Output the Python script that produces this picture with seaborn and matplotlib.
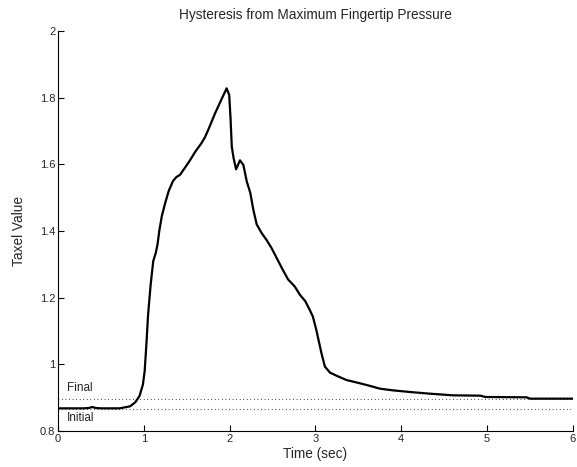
import seaborn as sns
import matplotlib.pyplot as plt
import pandas as pd

# values
time_sec = [0.0, 0.30, 0.36, 0.40, 0.44, 0.50, 0.72, 0.78, 0.84, 0.90, 0.95, 0.99,
            1.01, 1.03, 1.05, 1.08, 1.11, 1.14, 1.16, 1.18, 1.21, 1.25, 1.29, 1.34,
            1.38, 1.42, 1.48, 1.54, 1.60, 1.67, 1.71, 1.75, 1.83, 1.91, 1.965, 1.995,
            2.01, 2.025, 2.045, 2.075, 2.12, 2.16, 2.20, 2.24, 2.275, 2.315, 2.37, 2.43,
            2.49, 2.55, 2.61, 2.68, 2.76, 2.82, 2.88, 2.93, 2.97, 3.01, 3.07, 3.11,
            3.17, 3.27, 3.36, 3.52, 3.64, 3.75, 3.90, 4.10, 4.33, 4.60, 4.92, 4.98,
            5.46, 5.50, 6.0]
taxel = [0.868, 0.868, 0.869, 0.872, 0.869, 0.868, 0.868, 0.871, 0.874, 0.886, 0.905, 0.94,
         0.98, 1.06, 1.15, 1.24, 1.31, 1.335, 1.36, 1.40, 1.445, 1.485, 1.52, 1.55,
         1.562, 1.568, 1.59, 1.613, 1.638, 1.663, 1.68, 1.703, 1.753, 1.798, 1.828, 1.808,
         1.74, 1.653, 1.62, 1.585, 1.612, 1.598, 1.548, 1.515, 1.465, 1.42, 1.395, 1.373,
         1.348, 1.318, 1.288, 1.255, 1.233, 1.208, 1.19, 1.165, 1.143, 1.103, 1.033, 0.993,
         0.975, 0.963, 0.953, 0.943, 0.935, 0.927, 0.922, 0.917, 0.912, 0.907, 0.906, 0.902,
         0.901, 0.897, 0.897]
initial_level = 0.867
final_level = 0.896

sns.set_style("ticks")
plt.rcParams['font.family'] = ['Liberation Sans', 'DejaVu Sans']
plt.rcParams['xtick.direction'] = 'in'
plt.rcParams['ytick.direction'] = 'in'

df = pd.DataFrame({'Time (sec)': time_sec, 'Taxel Value': taxel})

fig = plt.figure(figsize=(5.77, 4.67), dpi=100)
ax = fig.add_axes([0.1005, 0.0771, 0.8925, 0.8565])

ax.axhline(final_level, color='black', linestyle=(0, (0.6, 2.6)), linewidth=0.8)
ax.axhline(initial_level, color='black', linestyle=(0, (0.6, 2.6)), linewidth=0.8)
sns.lineplot(data=df, x='Time (sec)', y='Taxel Value', color='black', linewidth=1.6,
             sort=False, estimator=None, ax=ax)

ax.text(0.1, 0.93, 'Final', fontsize=8.5, va='center', ha='left')
ax.text(0.1, 0.838, 'Initial', fontsize=8.5, va='center', ha='left')

ax.set_xlim(0, 6)
ax.set_ylim(0.8, 2)
ax.set_xticks([0, 1, 2, 3, 4, 5, 6])
ax.set_yticks([0.8, 1, 1.2, 1.4, 1.6, 1.8, 2])
ax.set_xticklabels(['0', '1', '2', '3', '4', '5', '6'])
ax.set_yticklabels(['0.8', '1', '1.2', '1.4', '1.6', '1.8', '2'])
ax.tick_params(labelsize=8, length=4, width=0.8, color='black', pad=2)
for s in ['left', 'bottom']:
    ax.spines[s].set_color('black')
    ax.spines[s].set_linewidth(0.8)
sns.despine(ax=ax)

ax.set_xlabel('Time (sec)', fontsize=9.8, labelpad=2)
ax.set_ylabel('Taxel Value', fontsize=9.8, labelpad=10)
ax.set_title('Hysteresis from Maximum Fingertip Pressure', fontsize=9.8, pad=9)

fig.savefig('out.png', dpi=100)
